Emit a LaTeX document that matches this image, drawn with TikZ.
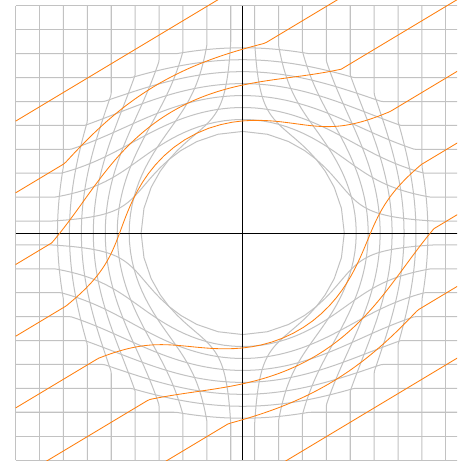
\documentclass[tikz,border=0pt]{standalone}
\usepackage{amsmath}
\usepackage{tikz}

\definecolor{rayorange}{RGB}{255,127,14}

\begin{document}
\begin{tikzpicture}[
    gridline/.style={color=black!24,line width=1.2pt},
    rayline/.style={color=rayorange,line width=1pt},
    axisline/.style={color=black,line width=0.9pt},
    declare function={
        rlen(\p,\q)=sqrt(\p*\p+\q*\q);
        cloak(\p,\q)=ifthenelse(rlen(\p,\q)<8,4/rlen(\p,\q)+0.5,1);
    }]
    \useasboundingbox (-10.155,-9.54) rectangle (8.967,9.749);
    \clip (-10.155,-9.54) rectangle (8.967,9.749);

    % grid, squeezed into the shell 4 < r < 8
    \foreach \yy in {-9.5,-8.5,...,9.5}
        \draw[gridline] plot[domain=-9.5:9.5,samples=153,variable=\t]
            ({cloak(\t,\yy)*\t},{cloak(\t,\yy)*(\yy)});
    \foreach \xx in {-9.5,-8.5,...,9.5}
        \draw[gridline] plot[domain=-9.5:9.5,samples=153,variable=\t]
            ({cloak(\xx,\t)*(\xx)},{cloak(\xx,\t)*\t});

    \coordinate (west) at (-9.5,0);
    \coordinate (east) at (9.5,0);
    \coordinate (north) at (0,9.5);
    \coordinate (south) at (0,-9.5);
    \draw[axisline] (west) -- (east);
    \draw[axisline] (north) -- (south);

    % rays y = 0.6x + c
    \foreach \cc in {-10.62,-7.62,-4.62,-1.62,1.38,4.38,7.38,10.38}
        \draw[rayline] plot[domain=-9.5:9.5,samples=153,variable=\t]
            ({cloak(\t,0.6*\t+(\cc))*\t},{cloak(\t,0.6*\t+(\cc))*(0.6*\t+(\cc))});
\end{tikzpicture}
\end{document}
